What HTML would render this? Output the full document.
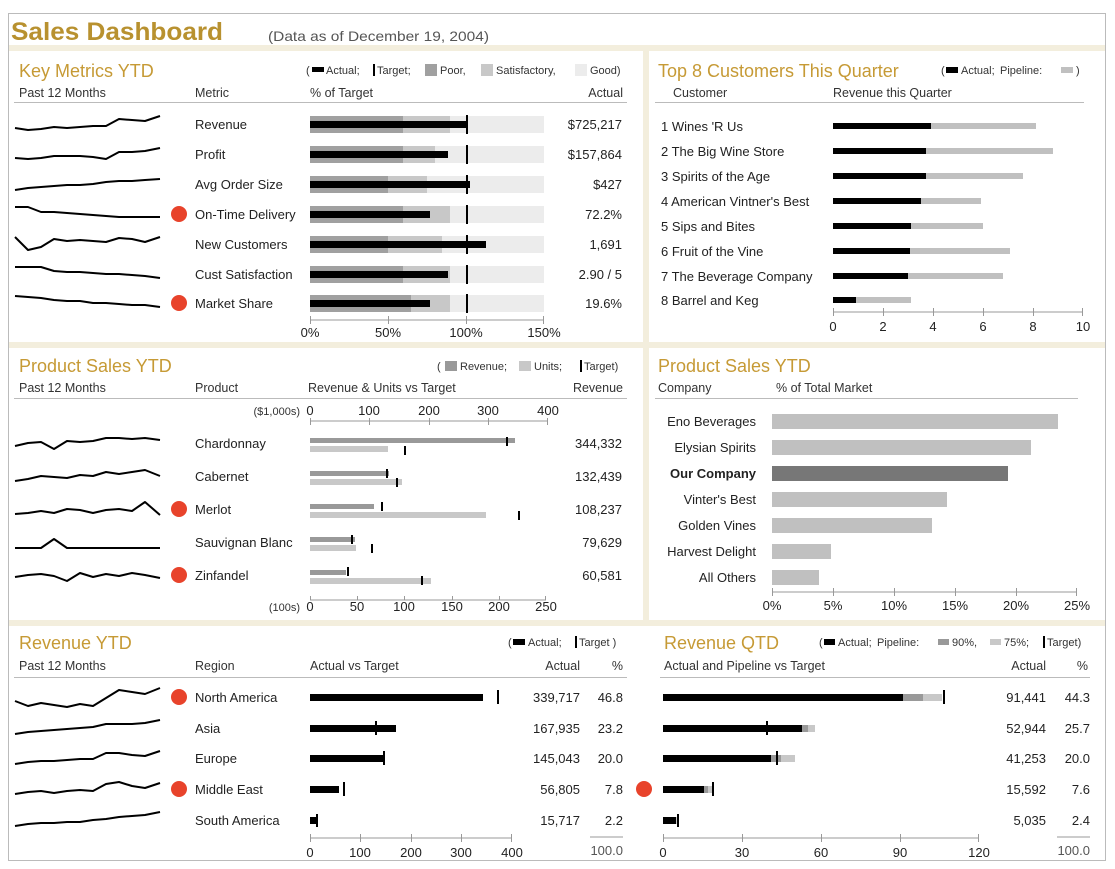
<!DOCTYPE html>
<html><head><meta charset="utf-8"><style>
html,body{margin:0;padding:0;background:#fff;}
svg{display:block;font-family:"Liberation Sans",sans-serif;}
.t{font-size:13px;fill:#222;}
.h{font-size:12.5px;fill:#333;}
.g{font-size:18px;fill:#C69A35;}
.s{font-size:11px;fill:#333;}
.sp{fill:none;stroke:#000;stroke-width:2;stroke-linejoin:round;}
</style></head><body>
<svg width="1115" height="869" viewBox="0 0 1115 869">
<rect x="8.5" y="13.5" width="1097" height="847" fill="#fff" stroke="#bbb"/>
<rect x="9" y="45" width="1096" height="6" fill="#F3EEDD"/>
<rect x="9" y="342" width="1096" height="6" fill="#F3EEDD"/>
<rect x="9" y="620" width="1096" height="6" fill="#F3EEDD"/>
<rect x="643" y="51" width="6" height="575" fill="#F3EEDD"/>
<text x="11" y="40" style="font-size:25px;font-weight:bold;fill:#B8912F" textLength="212" lengthAdjust="spacingAndGlyphs">Sales Dashboard</text>
<text x="268" y="41" style="font-size:14px;fill:#555" textLength="221" lengthAdjust="spacingAndGlyphs">(Data as of December 19, 2004)</text>

<!-- ===== Panel 1 Key Metrics ===== -->
<text x="19" y="77" class="g">Key Metrics YTD</text>
<g class="s">
<text x="306" y="74">(</text><rect x="312" y="67" width="12" height="5" fill="#000"/><text x="326" y="74">Actual;</text>
<rect x="373" y="64" width="2" height="12" fill="#000"/><text x="377" y="74">Target;</text>
<rect x="425" y="64" width="12" height="12" fill="#a0a0a0"/><text x="440" y="74">Poor,</text>
<rect x="481" y="64" width="12" height="12" fill="#c8c8c8"/><text x="496" y="74">Satisfactory,</text>
<rect x="575" y="64" width="12" height="12" fill="#ececec"/><text x="590" y="74">Good)</text>
</g>
<text x="19" y="97" class="h">Past 12 Months</text>
<text x="195" y="97" class="h">Metric</text>
<text x="310" y="97" class="h">% of Target</text>
<text x="623" y="97" class="h" text-anchor="end">Actual</text>
<line x1="14" y1="102.5" x2="627" y2="102.5" stroke="#bbb"/>
<g class="t">
<text x="195" y="129">Revenue</text><text x="195" y="159">Profit</text><text x="195" y="189">Avg Order Size</text>
<text x="195" y="219">On-Time Delivery</text><text x="195" y="249">New Customers</text><text x="195" y="279">Cust Satisfaction</text>
<text x="195" y="308">Market Share</text>
</g>
<g class="t" text-anchor="end">
<text x="622" y="129">$725,217</text><text x="622" y="159">$157,864</text><text x="622" y="189">$427</text>
<text x="622" y="219">72.2%</text><text x="622" y="249">1,691</text><text x="622" y="279">2.90 / 5</text><text x="622" y="308">19.6%</text>
</g>
<circle cx="179" cy="214" r="8" fill="#E8432B"/><circle cx="179" cy="303" r="8" fill="#E8432B"/>
<g>
<rect x="310" y="116" width="234" height="17" fill="#ececec"/><rect x="310" y="116" width="140" height="17" fill="#c8c8c8"/><rect x="310" y="116" width="93" height="17" fill="#a0a0a0"/><rect x="310" y="121" width="157" height="7" fill="#000"/><rect x="466" y="115" width="2" height="19" fill="#000"/>
<rect x="310" y="146" width="234" height="17" fill="#ececec"/><rect x="310" y="146" width="125" height="17" fill="#c8c8c8"/><rect x="310" y="146" width="93" height="17" fill="#a0a0a0"/><rect x="310" y="151" width="138" height="7" fill="#000"/><rect x="466" y="145" width="2" height="19" fill="#000"/>
<rect x="310" y="176" width="234" height="17" fill="#ececec"/><rect x="310" y="176" width="117" height="17" fill="#c8c8c8"/><rect x="310" y="176" width="78" height="17" fill="#a0a0a0"/><rect x="310" y="181" width="160" height="7" fill="#000"/><rect x="466" y="175" width="2" height="19" fill="#000"/>
<rect x="310" y="206" width="234" height="17" fill="#ececec"/><rect x="310" y="206" width="140" height="17" fill="#c8c8c8"/><rect x="310" y="206" width="93" height="17" fill="#a0a0a0"/><rect x="310" y="211" width="120" height="7" fill="#000"/><rect x="466" y="205" width="2" height="19" fill="#000"/>
<rect x="310" y="236" width="234" height="17" fill="#ececec"/><rect x="310" y="236" width="132" height="17" fill="#c8c8c8"/><rect x="310" y="236" width="78" height="17" fill="#a0a0a0"/><rect x="310" y="241" width="176" height="7" fill="#000"/><rect x="466" y="235" width="2" height="19" fill="#000"/>
<rect x="310" y="266" width="234" height="17" fill="#ececec"/><rect x="310" y="266" width="140" height="17" fill="#c8c8c8"/><rect x="310" y="266" width="93" height="17" fill="#a0a0a0"/><rect x="310" y="271" width="138" height="7" fill="#000"/><rect x="466" y="265" width="2" height="19" fill="#000"/>
<rect x="310" y="295" width="234" height="17" fill="#ececec"/><rect x="310" y="295" width="140" height="17" fill="#c8c8c8"/><rect x="310" y="295" width="101" height="17" fill="#a0a0a0"/><rect x="310" y="300" width="120" height="7" fill="#000"/><rect x="466" y="294" width="2" height="19" fill="#000"/>
</g>
<g stroke="#999"><line x1="310" y1="320" x2="544" y2="320"/><line x1="310.5" y1="316" x2="310.5" y2="324"/><line x1="388.5" y1="316" x2="388.5" y2="324"/><line x1="466.5" y1="316" x2="466.5" y2="324"/><line x1="543.5" y1="316" x2="543.5" y2="324"/></g>
<g class="t" text-anchor="middle"><text x="310" y="337">0%</text><text x="388" y="337">50%</text><text x="466" y="337">100%</text><text x="544" y="337">150%</text></g>
<g class="sp">
<polyline points="15,128 28,130 41,129 54,127 67,128 80,127 93,126 106,126 119,119 132,120 145,121 160,116"/>
<polyline points="15,158 28,159 41,158 54,156 67,156 80,156 93,157 106,159 119,152 132,152 145,151 160,148"/>
<polyline points="15,190 28,188 41,187 54,186 67,185 80,185 93,184 106,182 119,181 132,181 145,180 160,179"/>
<polyline points="15,207 28,207 41,212 54,212 67,213 80,214 93,215 106,216 119,217 132,217 145,217 160,217"/>
<polyline points="15,237 28,250 41,247 54,239 67,241 80,240 93,241 106,242 119,238 132,239 145,242 160,237"/>
<polyline points="15,267 28,267 41,267 54,271 67,272 80,272 93,273 106,274 119,274 132,275 145,276 160,278"/>
<polyline points="15,296 28,297 41,298 54,300 67,301 80,301 93,303 106,303 119,304 132,305 145,305 160,307"/>
</g>

<!-- ===== Panel 2 Top 8 ===== -->
<text x="658" y="77" class="g">Top 8 Customers This Quarter</text>
<g class="s">
<text x="941" y="74">(</text><rect x="946" y="67" width="12" height="6" fill="#000"/><text x="961" y="74">Actual;</text>
<text x="1000" y="74">Pipeline:</text><rect x="1061" y="67" width="12" height="6" fill="#c0c0c0"/><text x="1076" y="74">)</text>
</g>
<text x="673" y="97" class="h">Customer</text><text x="833" y="97" class="h">Revenue this Quarter</text>
<line x1="655" y1="102.5" x2="1084" y2="102.5" stroke="#bbb"/>
<g class="t">
<text x="661" y="131">1  Wines 'R Us</text><text x="661" y="156">2  The Big Wine Store</text><text x="661" y="181">3  Spirits of the Age</text>
<text x="661" y="206">4  American Vintner's Best</text><text x="661" y="231">5  Sips and Bites</text><text x="661" y="256">6  Fruit of the Vine</text>
<text x="661" y="281">7  The Beverage Company</text><text x="661" y="305">8  Barrel and Keg</text>
</g>
<g fill="#c0c0c0">
<rect x="833" y="123" width="203" height="6"/><rect x="833" y="148" width="220" height="6"/><rect x="833" y="173" width="190" height="6"/><rect x="833" y="198" width="148" height="6"/>
<rect x="833" y="223" width="150" height="6"/><rect x="833" y="248" width="177" height="6"/><rect x="833" y="273" width="170" height="6"/><rect x="833" y="297" width="78" height="6"/>
</g>
<g fill="#000">
<rect x="833" y="123" width="98" height="6"/><rect x="833" y="148" width="93" height="6"/><rect x="833" y="173" width="93" height="6"/><rect x="833" y="198" width="88" height="6"/>
<rect x="833" y="223" width="78" height="6"/><rect x="833" y="248" width="77" height="6"/><rect x="833" y="273" width="75" height="6"/><rect x="833" y="297" width="23" height="6"/>
</g>
<g stroke="#999"><line x1="833" y1="312" x2="1083" y2="312"/>
<line x1="833.5" y1="308" x2="833.5" y2="316"/><line x1="883.5" y1="308" x2="883.5" y2="316"/><line x1="933.5" y1="308" x2="933.5" y2="316"/><line x1="983.5" y1="308" x2="983.5" y2="316"/><line x1="1033.5" y1="308" x2="1033.5" y2="316"/><line x1="1082.5" y1="308" x2="1082.5" y2="316"/></g>
<g class="t" text-anchor="middle"><text x="833" y="331">0</text><text x="883" y="331">2</text><text x="933" y="331">4</text><text x="983" y="331">6</text><text x="1033" y="331">8</text><text x="1083" y="331">10</text></g>

<!-- ===== Panel 3 Product Sales left ===== -->
<text x="19" y="372" class="g">Product Sales YTD</text>
<g class="s">
<text x="437" y="370">(</text><rect x="445" y="361" width="12" height="10" fill="#999"/><text x="460" y="370">Revenue;</text>
<rect x="519" y="361" width="12" height="10" fill="#c8c8c8"/><text x="534" y="370">Units;</text>
<rect x="580" y="360" width="2" height="12" fill="#000"/><text x="584" y="370">Target)</text>
</g>
<text x="19" y="392" class="h">Past 12 Months</text><text x="195" y="392" class="h">Product</text><text x="308" y="392" class="h">Revenue &amp; Units vs Target</text><text x="623" y="392" class="h" text-anchor="end">Revenue</text>
<line x1="14" y1="398.5" x2="627" y2="398.5" stroke="#bbb"/>
<text x="300" y="415" class="s" text-anchor="end">($1,000s)</text>
<g class="t" text-anchor="middle"><text x="310" y="415">0</text><text x="369" y="415">100</text><text x="429" y="415">200</text><text x="488" y="415">300</text><text x="548" y="415">400</text></g>
<g stroke="#999"><line x1="310" y1="421" x2="548" y2="421"/><line x1="310.5" y1="418" x2="310.5" y2="425"/><line x1="369.5" y1="418" x2="369.5" y2="425"/><line x1="429.5" y1="418" x2="429.5" y2="425"/><line x1="488.5" y1="418" x2="488.5" y2="425"/><line x1="547.5" y1="418" x2="547.5" y2="425"/></g>
<g class="t"><text x="195" y="448">Chardonnay</text><text x="195" y="481">Cabernet</text><text x="195" y="514">Merlot</text><text x="195" y="547">Sauvignan Blanc</text><text x="195" y="580">Zinfandel</text></g>
<g class="t" text-anchor="end"><text x="622" y="448">344,332</text><text x="622" y="481">132,439</text><text x="622" y="514">108,237</text><text x="622" y="547">79,629</text><text x="622" y="580">60,581</text></g>
<circle cx="179" cy="509" r="8" fill="#E8432B"/><circle cx="179" cy="575" r="8" fill="#E8432B"/>
<g fill="#999">
<rect x="310" y="438" width="205" height="5"/><rect x="310" y="471" width="79" height="5"/><rect x="310" y="504" width="64" height="5"/><rect x="310" y="537" width="45" height="5"/><rect x="310" y="570" width="36" height="5"/>
</g>
<g fill="#c8c8c8">
<rect x="310" y="446" width="78" height="6"/><rect x="310" y="479" width="92" height="6"/><rect x="310" y="512" width="176" height="6"/><rect x="310" y="545" width="46" height="6"/><rect x="310" y="578" width="121" height="6"/>
</g>
<g fill="#000">
<rect x="506" y="437" width="2" height="9"/><rect x="404" y="446" width="2" height="9"/>
<rect x="386" y="469" width="2" height="9"/><rect x="396" y="478" width="2" height="9"/>
<rect x="381" y="502" width="2" height="9"/><rect x="518" y="511" width="2" height="9"/>
<rect x="351" y="535" width="2" height="9"/><rect x="371" y="544" width="2" height="9"/>
<rect x="347" y="567" width="2" height="9"/><rect x="421" y="576" width="2" height="9"/>
</g>
<g stroke="#999"><line x1="310" y1="600" x2="546" y2="600"/><line x1="310.5" y1="596" x2="310.5" y2="600"/><line x1="357.5" y1="596" x2="357.5" y2="600"/><line x1="404.5" y1="596" x2="404.5" y2="600"/><line x1="452.5" y1="596" x2="452.5" y2="600"/><line x1="499.5" y1="596" x2="499.5" y2="600"/><line x1="545.5" y1="596" x2="545.5" y2="600"/></g>
<text x="300" y="611" class="s" text-anchor="end">(100s)</text>
<g class="t" text-anchor="middle"><text x="310" y="611">0</text><text x="357" y="611">50</text><text x="404" y="611">100</text><text x="452" y="611">150</text><text x="499" y="611">200</text><text x="546" y="611">250</text></g>
<g class="sp">
<polyline points="15,446 28,443 41,442 54,449 67,441 80,442 93,441 106,438 119,438 132,439 145,438 160,440"/>
<polyline points="15,481 28,479 41,476 54,477 67,478 80,475 93,476 106,472 119,474 132,472 145,470 160,476"/>
<polyline points="15,514 28,513 41,511 54,513 67,509 80,510 93,513 106,510 119,509 132,511 145,502 160,515"/>
<polyline points="15,548 28,548 41,548 54,539 67,548 80,548 93,548 106,548 119,548 132,548 145,548 160,548"/>
<polyline points="15,577 28,575 41,574 54,576 67,581 80,573 93,577 106,574 119,576 132,573 145,575 160,578"/>
</g>

<!-- ===== Panel 4 Product Sales right ===== -->
<text x="658" y="372" class="g">Product Sales YTD</text>
<text x="658" y="392" class="h">Company</text><text x="776" y="392" class="h">% of Total Market</text>
<line x1="655" y1="398.5" x2="1078" y2="398.5" stroke="#bbb"/>
<g class="t" text-anchor="end">
<text x="756" y="426">Eno Beverages</text><text x="756" y="452">Elysian Spirits</text><text x="756" y="478" style="font-weight:bold">Our Company</text>
<text x="756" y="504">Vinter's Best</text><text x="756" y="530">Golden Vines</text><text x="756" y="556">Harvest Delight</text><text x="756" y="582">All Others</text>
</g>
<g fill="#c0c0c0">
<rect x="772" y="414" width="286" height="15"/><rect x="772" y="440" width="259" height="15"/><rect x="772" y="466" width="236" height="15" fill="#777"/>
<rect x="772" y="492" width="175" height="15"/><rect x="772" y="518" width="160" height="15"/><rect x="772" y="544" width="59" height="15"/><rect x="772" y="570" width="47" height="15"/>
</g>
<g stroke="#999"><line x1="772" y1="592" x2="1077" y2="592"/><line x1="772.5" y1="588" x2="772.5" y2="596"/><line x1="833.5" y1="588" x2="833.5" y2="596"/><line x1="894.5" y1="588" x2="894.5" y2="596"/><line x1="955.5" y1="588" x2="955.5" y2="596"/><line x1="1016.5" y1="588" x2="1016.5" y2="596"/><line x1="1076.5" y1="588" x2="1076.5" y2="596"/></g>
<g class="t" text-anchor="middle"><text x="772" y="610">0%</text><text x="833" y="610">5%</text><text x="894" y="610">10%</text><text x="955" y="610">15%</text><text x="1016" y="610">20%</text><text x="1077" y="610">25%</text></g>

<!-- ===== Panel 5 Revenue YTD ===== -->
<text x="19" y="649" class="g">Revenue YTD</text>
<g class="s">
<text x="508" y="646">(</text><rect x="513" y="639" width="12" height="6" fill="#000"/><text x="528" y="646">Actual;</text>
<rect x="575" y="636" width="2" height="12" fill="#000"/><text x="579" y="646">Target )</text>
</g>
<text x="19" y="670" class="h">Past 12 Months</text><text x="195" y="670" class="h">Region</text><text x="310" y="670" class="h">Actual vs Target</text>
<text x="580" y="670" class="h" text-anchor="end">Actual</text><text x="623" y="670" class="h" text-anchor="end">%</text>
<line x1="14" y1="677.5" x2="627" y2="677.5" stroke="#bbb"/>
<g class="t"><text x="195" y="702">North America</text><text x="195" y="733">Asia</text><text x="195" y="763">Europe</text><text x="195" y="794">Middle East</text><text x="195" y="825">South America</text></g>
<g class="t" text-anchor="end">
<text x="580" y="702">339,717</text><text x="580" y="733">167,935</text><text x="580" y="763">145,043</text><text x="580" y="794">56,805</text><text x="580" y="825">15,717</text>
<text x="623" y="702">46.8</text><text x="623" y="733">23.2</text><text x="623" y="763">20.0</text><text x="623" y="794">7.8</text><text x="623" y="825">2.2</text>
</g>
<circle cx="179" cy="697" r="8" fill="#E8432B"/><circle cx="179" cy="789" r="8" fill="#E8432B"/>
<g fill="#000">
<rect x="310" y="694" width="173" height="7"/><rect x="497" y="690" width="2" height="14"/>
<rect x="310" y="725" width="86" height="7"/><rect x="375" y="721" width="2" height="14"/>
<rect x="310" y="755" width="74" height="7"/><rect x="383" y="751" width="2" height="14"/>
<rect x="310" y="786" width="29" height="7"/><rect x="343" y="782" width="2" height="14"/>
<rect x="310" y="817" width="7" height="7"/><rect x="316" y="814" width="2" height="13"/>
</g>
<g stroke="#999"><line x1="310" y1="838" x2="512" y2="838"/><line x1="310.5" y1="834" x2="310.5" y2="842"/><line x1="360.5" y1="834" x2="360.5" y2="842"/><line x1="411.5" y1="834" x2="411.5" y2="842"/><line x1="461.5" y1="834" x2="461.5" y2="842"/><line x1="511.5" y1="834" x2="511.5" y2="842"/>
<line x1="590" y1="837" x2="623" y2="837"/></g>
<g class="t" text-anchor="middle"><text x="310" y="857">0</text><text x="360" y="857">100</text><text x="411" y="857">200</text><text x="461" y="857">300</text><text x="512" y="857">400</text></g>
<text x="623" y="855" class="t" text-anchor="end" style="fill:#555">100.0</text>
<g class="sp">
<polyline points="15,701 28,706 41,703 54,705 67,707 80,704 93,706 106,698 119,690 132,692 145,694 160,688"/>
<polyline points="15,734 28,732 41,731 54,730 67,729 80,728 93,727 106,724 119,724 132,724 145,723 160,720"/>
<polyline points="15,764 28,762 41,761 54,761 67,760 80,759 93,759 106,753 119,753 132,755 145,756 160,751"/>
<polyline points="15,794 28,792 41,791 54,793 67,791 80,790 93,791 106,784 119,782 132,786 145,788 160,783"/>
<polyline points="15,826 28,824 41,823 54,823 67,822 80,822 93,820 106,819 119,817 132,816 145,815 160,812"/>
</g>

<!-- ===== Panel 6 Revenue QTD ===== -->
<text x="664" y="649" class="g">Revenue QTD</text>
<g class="s">
<text x="819" y="646">(</text><rect x="824" y="639" width="11" height="6" fill="#000"/><text x="838" y="646">Actual;</text>
<text x="877" y="646">Pipeline:</text>
<rect x="938" y="639" width="11" height="6" fill="#999"/><text x="952" y="646">90%,</text>
<rect x="990" y="639" width="11" height="6" fill="#c8c8c8"/><text x="1004" y="646">75%;</text>
<rect x="1043" y="636" width="2" height="12" fill="#000"/><text x="1047" y="646">Target)</text>
</g>
<text x="664" y="670" class="h">Actual and Pipeline vs Target</text>
<text x="1046" y="670" class="h" text-anchor="end">Actual</text><text x="1088" y="670" class="h" text-anchor="end">%</text>
<line x1="660" y1="677.5" x2="1090" y2="677.5" stroke="#bbb"/>
<g class="t" text-anchor="end">
<text x="1046" y="702">91,441</text><text x="1046" y="733">52,944</text><text x="1046" y="763">41,253</text><text x="1046" y="794">15,592</text><text x="1046" y="825">5,035</text>
<text x="1090" y="702">44.3</text><text x="1090" y="733">25.7</text><text x="1090" y="763">20.0</text><text x="1090" y="794">7.6</text><text x="1090" y="825">2.4</text>
</g>
<circle cx="644" cy="789" r="8" fill="#E8432B"/>
<g>
<rect x="663" y="694" width="279" height="7" fill="#c8c8c8"/><rect x="663" y="694" width="260" height="7" fill="#999"/><rect x="663" y="694" width="240" height="7" fill="#000"/><rect x="943" y="690" width="2" height="14" fill="#000"/>
<rect x="663" y="725" width="152" height="7" fill="#c8c8c8"/><rect x="663" y="725" width="145" height="7" fill="#999"/><rect x="663" y="725" width="139" height="7" fill="#000"/><rect x="766" y="721" width="2" height="14" fill="#000"/>
<rect x="663" y="755" width="132" height="7" fill="#c8c8c8"/><rect x="663" y="755" width="118" height="7" fill="#999"/><rect x="663" y="755" width="108" height="7" fill="#000"/><rect x="776" y="751" width="2" height="14" fill="#000"/>
<rect x="663" y="786" width="49" height="7" fill="#c8c8c8"/><rect x="663" y="786" width="45" height="7" fill="#999"/><rect x="663" y="786" width="41" height="7" fill="#000"/><rect x="712" y="782" width="2" height="14" fill="#000"/>
<rect x="663" y="817" width="14" height="7" fill="#c8c8c8"/><rect x="663" y="817" width="13" height="7" fill="#000"/><rect x="677" y="814" width="2" height="13" fill="#000"/>
</g>
<g stroke="#999"><line x1="663" y1="838" x2="979" y2="838"/><line x1="663.5" y1="834" x2="663.5" y2="842"/><line x1="742.5" y1="834" x2="742.5" y2="842"/><line x1="821.5" y1="834" x2="821.5" y2="842"/><line x1="900.5" y1="834" x2="900.5" y2="842"/><line x1="978.5" y1="834" x2="978.5" y2="842"/>
<line x1="1057" y1="837" x2="1090" y2="837"/></g>
<g class="t" text-anchor="middle"><text x="663" y="857">0</text><text x="742" y="857">30</text><text x="821" y="857">60</text><text x="900" y="857">90</text><text x="979" y="857">120</text></g>
<text x="1090" y="855" class="t" text-anchor="end" style="fill:#555">100.0</text>
</svg>
</body></html>
